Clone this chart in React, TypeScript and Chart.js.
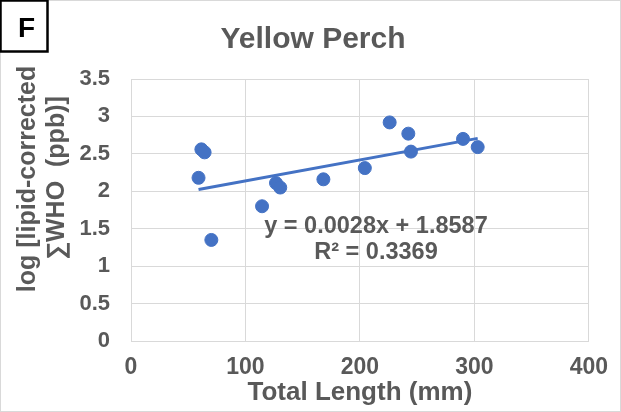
import React, { useEffect, useRef } from "react";
import { Chart, registerables } from "chart.js";

Chart.register(...registerables);

const chartTitle = "Yellow Perch";
const panelLabel = "F";
const xTitle = "Total Length (mm)";
const yTitleLines = ["log [lipid-corrected", "∑WHO  (ppb)]"];
const lengthsMm = [59, 61.5, 64.3, 70.2, 114.5, 126.7, 130.4, 168.1, 204.3, 226, 242.3, 244.6, 290.1, 302.9];
const logWho = [2.18, 2.56, 2.52, 1.35, 1.8, 2.11, 2.05, 2.16, 2.31, 2.92, 2.77, 2.53, 2.7, 2.59];
const trendSlope = 0.0028;
const trendIntercept = 1.8587;
const equationText = "y = 0.0028x + 1.8587";
const r2Text = "R² = 0.3369";
const xTicks = [0, 100, 200, 300, 400];
const yTicks = [0, 0.5, 1, 1.5, 2, 2.5, 3, 3.5];

const GRAY = "#595959";
const BLUE = "#4472C4";
const GRID = "#d9d9d9";
const FONT = "'Liberation Sans', Arial, sans-serif";

export default function App() {
  const ref = useRef<HTMLCanvasElement>(null);
  useEffect(() => {
    const canvas = ref.current!;
    const xMin = Math.min(...lengthsMm);
    const xMax = Math.max(...lengthsMm);
    const decor = {
      id: "decor",
      afterDraw(chart: any) {
        const ctx = chart.ctx as CanvasRenderingContext2D;
        ctx.save();
        // outer border
        ctx.strokeStyle = GRID;
        ctx.lineWidth = 1;
        ctx.strokeRect(0.5, 0.5, 620, 411);
        // panel label box
        ctx.fillStyle = "#fff";
        ctx.fillRect(0, 0, 48, 52);
        ctx.strokeStyle = "#000";
        ctx.lineWidth = 2.5;
        ctx.strokeRect(0.5, 0.5, 47, 51);
        ctx.fillStyle = "#000";
        ctx.font = `bold 28px ${FONT}`;
        ctx.textAlign = "center";
        ctx.textBaseline = "middle";
        ctx.fillText(panelLabel, 26.5, 29);
        // title
        ctx.fillStyle = GRAY;
        ctx.font = `bold 30px ${FONT}`;
        ctx.fillText(chartTitle, 313, 40);
        // y title
        ctx.font = `bold 25px ${FONT}`;
        ctx.save();
        ctx.translate(28, 179);
        ctx.rotate(-Math.PI / 2);
        ctx.fillText(yTitleLines[0], 0, 0);
        ctx.restore();
        ctx.save();
        ctx.translate(57, 178);
        ctx.rotate(-Math.PI / 2);
        ctx.fillText(yTitleLines[1], 0, 0);
        ctx.restore();
        // equation
        ctx.font = `bold 23.5px ${FONT}`;
        ctx.fillText(equationText, 376, 227);
        ctx.fillText(r2Text, 376, 253);
        ctx.restore();
      },
    };
    const chart = new Chart(canvas, {
      type: "scatter",
      data: {
        datasets: [
          {
            type: "scatter",
            data: lengthsMm.map((x, i) => ({ x, y: logWho[i] })),
            backgroundColor: BLUE,
            borderColor: BLUE,
            pointRadius: 6.5,
            pointHoverRadius: 6.5,
            order: 1,
          },
          {
            type: "line",
            data: [xMin, xMax].map((x) => ({ x, y: trendSlope * x + trendIntercept })),
            borderColor: BLUE,
            borderWidth: 3,
            pointRadius: 0,
            fill: false,
            order: 2,
          } as any,
        ],
      },
      options: {
        responsive: false,
        animation: false,
        events: [],
        layout: { padding: { left: 0, top: 79, right: 30, bottom: 0 } },
        plugins: { legend: { display: false }, tooltip: { enabled: false }, title: { display: false } },
        scales: {
          x: {
            type: "linear",
            min: 0,
            max: 400,
            afterBuildTicks: (s: any) => {
              s.ticks = xTicks.map((v) => ({ value: v }));
            },
            afterFit: (s: any) => {
              s.height = 71;
            },
            grid: { color: GRID, lineWidth: 1, drawTicks: false },
            border: { color: GRID, width: 1 },
            ticks: {
              color: GRAY,
              font: { family: FONT, size: 23, weight: "bold" },
              padding: 13,
              maxRotation: 0,
              callback: (v: any) => String(v),
            },
            title: {
              display: true,
              text: xTitle,
              color: GRAY,
              font: { family: FONT, size: 26, weight: "bold" },
              padding: { top: 0, bottom: 4 },
            },
          },
          y: {
            type: "linear",
            min: 0,
            max: 3.5,
            afterBuildTicks: (s: any) => {
              s.ticks = yTicks.map((v) => ({ value: v }));
            },
            afterFit: (s: any) => {
              s.width = 131;
            },
            grid: { color: GRID, lineWidth: 1, drawTicks: false },
            border: { color: GRID, width: 1 },
            ticks: {
              color: GRAY,
              font: { family: FONT, size: 22, weight: "bold" },
              padding: 21,
              callback: (v: any) => String(v),
            },
          },
        },
      },
      plugins: [decor],
    });
    return () => chart.destroy();
  }, []);
  return (
    <div style={{ position: "absolute", left: 0, top: 0, width: 621, height: 412, background: "#fff" }}>
      <canvas ref={ref} width={621} height={412} />
    </div>
  );
}
